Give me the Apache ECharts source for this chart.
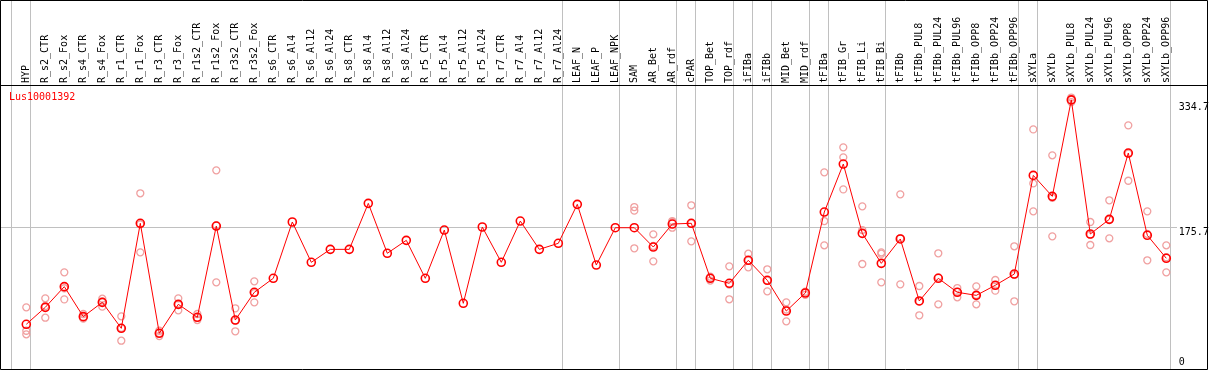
<!DOCTYPE html>
<html><head><meta charset="utf-8">
<script src="https://cdn.jsdelivr.net/npm/echarts@6/dist/echarts.min.js"></script>
<style>html,body{margin:0;padding:0;background:#fff}#c{width:1209px;height:370px}</style>
</head><body><div id="c"></div>
<script>
var categories = ["HYP","R_s2_CTR","R_s2_Fox","R_s4_CTR","R_s4_Fox","R_r1_CTR","R_r1_Fox","R_r3_CTR","R_r3_Fox","R_r1s2_CTR","R_r1s2_Fox","R_r3s2_CTR","R_r3s2_Fox","R_s6_CTR","R_s6_Al4","R_s6_Al12","R_s6_Al24","R_s8_CTR","R_s8_Al4","R_s8_Al12","R_s8_Al24","R_r5_CTR","R_r5_Al4","R_r5_Al12","R_r5_Al24","R_r7_CTR","R_r7_Al4","R_r7_Al12","R_r7_Al24","LEAF_N","LEAF_P","LEAF_NPK","SAM","AR_Bet","AR_rdf","cPAR","TOP_Bet","TOP_rdf","iFIBa","iFIBb","MID_Bet","MID_rdf","tFIBa","tFIB_Gr","tFIB_Li","tFIB_Bi","tFIBb","tFIBb_PUL8","tFIBb_PUL24","tFIBb_PUL96","tFIBb_OPP8","tFIBb_OPP24","tFIBb_OPP96","sXYLa","sXYLb","sXYLb_PUL8","sXYLb_PUL24","sXYLb_PUL96","sXYLb_OPP8","sXYLb_OPP24","sXYLb_OPP96"];
var meanValues = [55.6,76.7,102.4,65.1,82.9,50.6,181.2,44.4,80.4,64.3,177.8,60.9,95.4,112.8,182.8,132.7,148.8,148.8,206.0,143.9,160.0,112.8,172.8,81.7,176.6,132.7,184.0,148.8,156.3,204.8,129.3,175.7,175.7,151.7,180.3,181.2,112.8,106.6,135.2,110.3,72.1,94.5,195.2,254.9,168.7,131.4,161.7,84.6,112.8,95.4,91.6,104.1,118.1,240.8,214.7,334.7,167.9,186.1,268.6,166.3,137.7];
var rep1 = [76.7,87.9,120.2,68.4,87.4,65.5,218.5,47.6,87.9,68.4,247.1,75.5,109.0,null,null,null,null,null,null,null,null,null,null,null,null,null,null,null,null,null,null,null,201.4,167.5,184.0,203.6,114.9,127.7,143.4,124.0,82.9,96.1,244.6,275.7,202.3,145.1,217.2,103.2,143.9,100.7,102.8,110.7,152.6,298.0,265.7,337.6,182.8,209.8,303.0,196.1,153.8];
var rep2 = [47.6,78.4,100.4,64.3,83.8,51.1,180.0,44.6,80.3,63.6,178.5,60.3,94.3,null,null,null,null,null,null,null,null,null,null,null,null,null,null,null,null,null,null,null,196.9,153.0,182.8,181.0,113.0,105.0,135.0,110.0,74.0,95.0,184.0,263.2,172.8,143.4,162.6,84.0,114.0,96.0,92.0,104.0,117.0,230.8,213.0,334.7,167.0,186.0,268.0,168.0,139.0];
var rep3 = [43.1,63.8,86.6,62.6,77.5,35.2,145.1,41.0,73.0,60.9,107.8,46.9,82.9,null,null,null,null,null,null,null,null,null,null,null,null,null,null,null,null,null,null,null,150.1,133.9,175.7,158.8,110.0,86.7,126.5,96.6,59.3,92.3,153.8,223.4,130.6,107.8,105.3,66.8,80.4,89.1,80.4,97.4,84.2,196.1,165.0,332.0,154.2,162.5,234.1,135.2,120.2];
var yTickLabels = [0, 175.7, 334.7];
var refLineValue = 175.7;
var groupEnds = [-1,0,28,31,34,35,37,38,39,41,42,45,52,53,60];
var geneName = "Lus10001392";

var FONT = '"DejaVu Sans Mono", monospace';
var chart = echarts.init(document.getElementById('c'), null, {renderer:'canvas'});
function repSeries(arr){
  return {type:'line', data:arr, connectNulls:false, lineStyle:{width:0, opacity:0},
    symbol:'circle', symbolSize:7, showSymbol:true, z:2, silent:true, animation:false,
    itemStyle:{color:'rgba(0,0,0,0)', borderColor:'#f0a0a0', borderWidth:1.3}};
}
var option = {
  animation:false,
  backgroundColor:'#fff',
  grid:{left:16.8, right:33.2, top:85, bottom:1, outerBoundsMode:'none', containLabel:false},
  xAxis:{type:'category', data:categories, position:'top', boundaryGap:true,
    axisLine:{show:false}, axisTick:{show:false}, splitLine:{show:false},
    axisLabel:{interval:0, rotate:90, margin:2, color:'#000', fontFamily:FONT, fontSize:10}},
  yAxis:{type:'value', position:'right', min:0, max:353.2,
    axisLine:{show:false}, axisTick:{show:false}, splitLine:{show:false},
    axisLabel:{customValues:yTickLabels, margin:3, color:'#000', fontFamily:FONT, fontSize:10,
      formatter:function(v){ var k = v===0?'c':(v>300?'a':'b'); return '{'+k+'|'+v+'}'; },
      rich:{a:{padding:[15,0,0,0],fontFamily:FONT,fontSize:10,color:'#000'},
            b:{padding:[9,0,0,0],fontFamily:FONT,fontSize:10,color:'#000'},
            c:{padding:[0,0,13,0],fontFamily:FONT,fontSize:10,color:'#000'}}}},
  series:[repSeries(rep1), repSeries(rep2), repSeries(rep3),
    {type:'line', data:meanValues, z:5, symbol:'circle', symbolSize:8, showSymbol:true,
     lineStyle:{color:'#ff0000', width:1},
     itemStyle:{color:'rgba(0,0,0,0)', borderColor:'#ff0000', borderWidth:1.6}}]
};
chart.setOption(option);

var x0 = chart.convertToPixel({xAxisIndex:0}, 0);
var x1 = chart.convertToPixel({xAxisIndex:0}, 1);
var step = x1 - x0;
var yRef = chart.convertToPixel({yAxisIndex:0}, refLineValue);
var g = [];
groupEnds.forEach(function(i){
  var x = Math.floor(x0 + step*i + 4) + 0.5;
  g.push({type:'line', shape:{x1:x, y1:0, x2:x, y2:369}, style:{stroke:'#c0c0c0', lineWidth:1}, z:0, silent:true});
});
var yr = Math.floor(yRef) + 0.5;
g.push({type:'line', shape:{x1:1, y1:yr, x2:1177, y2:yr}, style:{stroke:'#c0c0c0', lineWidth:1}, z:0, silent:true});
g.push({type:'line', shape:{x1:0, y1:85.5, x2:1208, y2:85.5}, style:{stroke:'#000', lineWidth:1}, z:10, silent:true});
g.push({type:'rect', shape:{x:0.5, y:0.5, width:1207, height:369}, style:{fill:null, stroke:'#000', lineWidth:1}, z:10, silent:true});
g.push({type:'text', x:9, y:92, style:{text:geneName, fill:'#ff0000', font:'10px '+FONT}, z:10, silent:true});
chart.setOption({graphic:g});
</script></body></html>
